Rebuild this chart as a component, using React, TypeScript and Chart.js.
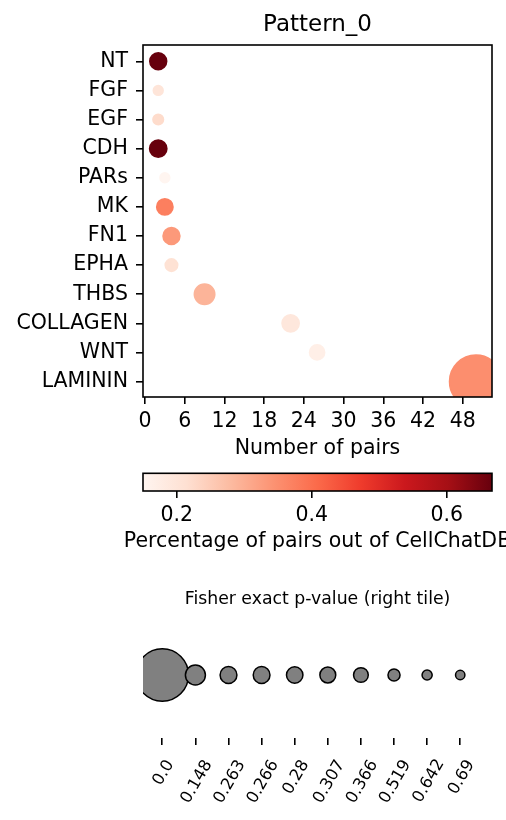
import React, { useEffect, useRef } from 'react';
import { Chart, registerables } from 'chart.js';

Chart.register(...registerables);

// ---------------- data ----------------
const chartTitle = 'Pattern_0';
const categories = ['NT', 'FGF', 'EGF', 'CDH', 'PARs', 'MK', 'FN1', 'EPHA', 'THBS', 'COLLAGEN', 'WNT', 'LAMININ'];
const pairCounts = [2, 2, 2, 2, 3, 3, 4, 4, 9, 22, 26, 50];
const pairPercentages = [0.667, 0.2, 0.222, 0.667, 0.15, 0.375, 0.333, 0.21, 0.29, 0.193, 0.17, 0.35];
const pValues = [0.28, 0.69, 0.642, 0.263, 0.69, 0.307, 0.28, 0.519, 0.148, 0.266, 0.366, 0.0];
const xTicks = [0, 6, 12, 18, 24, 30, 36, 42, 48];
const colorbarTicks = [0.2, 0.4, 0.6];
const legendPValues = [0.0, 0.148, 0.263, 0.266, 0.28, 0.307, 0.366, 0.519, 0.642, 0.69];
const xAxisTitle = 'Number of pairs';
const colorbarTitle = 'Percentage of pairs out of CellChatDB';
const legendTitle = 'Fisher exact p-value (right tile)';

// ---------------- styles ----------------
const FONT = "'DejaVu Sans'";
const REDS = [
  [255, 245, 240], [254, 224, 210], [252, 187, 161], [252, 146, 114], [251, 106, 74],
  [239, 59, 44], [203, 24, 29], [165, 15, 21], [103, 0, 13],
];
const vmin = Math.min(...pairPercentages);
const vmax = Math.max(...pairPercentages);

function reds(t: number): string {
  const c = Math.max(0, Math.min(1, t)) * (REDS.length - 1);
  const i = Math.min(REDS.length - 2, Math.floor(c));
  const f = c - i;
  const a = REDS[i], b = REDS[i + 1];
  const m = (k: number) => Math.round(a[k] + (b[k] - a[k]) * f);
  return `rgb(${m(0)},${m(1)},${m(2)})`;
}
function radius(p: number): number {
  const l = Math.min(-Math.log(p), 13.5);
  return Math.sqrt(3.2 + 50.7 * l);
}
const fmtP = (p: number) => (p === 0 ? '0.0' : String(p));

const framePlugin = {
  id: 'frame',
  afterDatasetsDraw(chart: any, _a: any, opts: any) {
    if (!opts || !opts.show) return;
    const { left, top, right, bottom } = chart.chartArea;
    const ctx = chart.ctx;
    ctx.save();
    ctx.strokeStyle = '#000';
    ctx.lineWidth = 1.6;
    ctx.strokeRect(left, top, right - left, bottom - top);
    ctx.restore();
  },
};

const captionPlugin = {
  id: 'captions',
  afterDraw(chart: any, _a: any, opts: any) {
    if (!opts || !opts.items) return;
    const ctx = chart.ctx;
    const { left, right } = chart.chartArea;
    ctx.save();
    ctx.fillStyle = '#000';
    ctx.textAlign = 'center';
    ctx.textBaseline = 'middle';
    for (const it of opts.items) {
      ctx.font = `${it.size}px ${FONT}`;
      ctx.fillText(it.text, (left + right) / 2, it.y);
    }
    ctx.restore();
  },
};

const gradientPlugin = {
  id: 'cbar',
  beforeDatasetsDraw(chart: any, _a: any, opts: any) {
    if (!opts || !opts.show) return;
    const ctx = chart.ctx;
    const xs = chart.scales.x;
    const { left, top, right, bottom } = chart.chartArea;
    const g = ctx.createLinearGradient(xs.getPixelForValue(vmin), 0, xs.getPixelForValue(vmax), 0);
    REDS.forEach((c, i) => g.addColorStop(i / (REDS.length - 1), `rgb(${c[0]},${c[1]},${c[2]})`));
    ctx.save();
    ctx.fillStyle = g;
    ctx.fillRect(left, top, right - left, bottom - top);
    ctx.restore();
  },
};

const rotatedLabelPlugin = {
  id: 'rotLabels',
  afterDraw(chart: any, _a: any, opts: any) {
    if (!opts || !opts.labels) return;
    const ctx = chart.ctx;
    const xs = chart.scales.x;
    const ang = (60 * Math.PI) / 180;
    ctx.save();
    ctx.fillStyle = '#000';
    ctx.font = `${opts.size}px ${FONT}`;
    ctx.textAlign = 'left';
    ctx.textBaseline = 'alphabetic';
    opts.labels.forEach((t: string, i: number) => {
      const m = ctx.measureText(t);
      const w = m.actualBoundingBoxLeft + m.actualBoundingBoxRight;
      const h = m.actualBoundingBoxAscent + m.actualBoundingBoxDescent;
      const bh = w * Math.sin(ang) + h * Math.cos(ang);
      const cx = xs.getPixelForValue(i);
      const cy = opts.top + bh / 2;
      const mx = (m.actualBoundingBoxRight - m.actualBoundingBoxLeft) / 2;
      const my = (m.actualBoundingBoxDescent - m.actualBoundingBoxAscent) / 2;
      ctx.save();
      ctx.translate(cx, cy);
      ctx.rotate(-ang);
      ctx.fillText(t, -mx, -my);
      ctx.restore();
    });
    ctx.restore();
  },
};

const tickGrid = { display: true, drawOnChartArea: false, drawTicks: true, tickLength: 7, lineWidth: 1.6, color: '#000' };

export default function App() {
  const mainRef = useRef<HTMLCanvasElement>(null);
  const cbRef = useRef<HTMLCanvasElement>(null);
  const lgRef = useRef<HTMLCanvasElement>(null);

  useEffect(() => {
    Chart.defaults.font.family = FONT;
    Chart.defaults.color = '#000';
    const colors = pairPercentages.map((v) => reds((v - vmin) / (vmax - vmin)));

    const main = new Chart(mainRef.current as HTMLCanvasElement, {
      type: 'bubble',
      data: {
        datasets: [
          {
            data: categories.map((_, i) => ({ x: pairCounts[i], y: i, r: radius(pValues[i]) })),
            backgroundColor: colors,
            borderColor: colors,
            borderWidth: 2,
            clip: 0,
          } as any,
        ],
      },
      options: {
        responsive: false,
        animation: false,
        events: [],
        layout: { autoPadding: false, padding: { top: 45, left: 0, right: 14, bottom: 0 } },
        plugins: {
          legend: { display: false },
          tooltip: { enabled: false },
          frame: { show: true },
          captions: { items: [{ text: chartTitle, size: 23, y: 25 }] },
        } as any,
        scales: {
          x: {
            type: 'linear',
            min: -0.3,
            max: 52.42,
            afterBuildTicks: (s: any) => { s.ticks = xTicks.map((v) => ({ value: v })); },
            afterFit: (s: any) => { s.height = 73; },
            grid: tickGrid,
            border: { display: false },
            ticks: { font: { size: 20.5 }, color: '#000', padding: 5.5, maxRotation: 0, autoSkip: false, callback: (v: any) => String(v) },
            title: { display: true, text: xAxisTitle, font: { size: 20.5 }, color: '#000', padding: { top: 0, bottom: 8.7 } },
          },
          y: {
            type: 'linear',
            reverse: true,
            min: -0.56,
            max: 11.53,
            afterBuildTicks: (s: any) => { s.ticks = categories.map((_, i) => ({ value: i })); },
            afterFit: (s: any) => { s.width = 143; },
            grid: tickGrid,
            border: { display: false },
            ticks: { font: { size: 20.5 }, color: '#000', padding: 8, autoSkip: false, callback: (v: any) => categories[v] ?? '' },
          },
        } as any,
      },
      plugins: [framePlugin, captionPlugin],
    } as any);

    const cbar = new Chart(cbRef.current as HTMLCanvasElement, {
      type: 'scatter',
      data: { datasets: [] },
      options: {
        responsive: false,
        animation: false,
        events: [],
        layout: { autoPadding: false, padding: { top: 13.3, left: 143, right: 14, bottom: 0 } },
        plugins: {
          legend: { display: false },
          tooltip: { enabled: false },
          frame: { show: true },
          cbar: { show: true },
          captions: { items: [{ text: colorbarTitle, size: 20.5, y: 82 }] },
        } as any,
        scales: {
          x: {
            type: 'linear',
            min: vmin,
            max: vmax,
            afterBuildTicks: (s: any) => { s.ticks = colorbarTicks.map((v) => ({ value: v })); },
            afterFit: (s: any) => { s.height = 69; },
            grid: tickGrid,
            border: { display: false },
            ticks: { font: { size: 20.5 }, color: '#000', padding: 5, maxRotation: 0, autoSkip: false, callback: (v: any) => Number(v).toFixed(1) },
          },
          y: { display: false, min: 0, max: 1 },
        } as any,
      },
      plugins: [gradientPlugin, framePlugin, captionPlugin],
    } as any);

    const legend = new Chart(lgRef.current as HTMLCanvasElement, {
      type: 'bubble',
      data: {
        datasets: [
          {
            data: legendPValues.map((p, i) => ({ x: i, y: 0.5, r: radius(p) })),
            backgroundColor: '#808080',
            borderColor: '#000',
            borderWidth: 1.5,
            clip: 0,
          } as any,
        ],
      },
      options: {
        responsive: false,
        animation: false,
        events: [],
        layout: { autoPadding: false, padding: { top: 32, left: 143, right: 14, bottom: 0 } },
        plugins: {
          legend: { display: false },
          tooltip: { enabled: false },
          captions: { items: [{ text: legendTitle, size: 17.3, y: 20 }] },
          rotLabels: { labels: legendPValues.map(fmtP), size: 16.4, top: 178 },
        } as any,
        scales: {
          x: {
            type: 'linear',
            min: -0.583,
            max: 9.96,
            afterBuildTicks: (s: any) => { s.ticks = legendPValues.map((_, i) => ({ value: i })); },
            afterFit: (s: any) => { s.height = 82; },
            grid: tickGrid,
            border: { display: false },
            ticks: { display: false },
          },
          y: { display: false, min: 0, max: 1 },
        } as any,
      },
      plugins: [captionPlugin, rotatedLabelPlugin],
    } as any);

    return () => {
      main.destroy();
      cbar.destroy();
      legend.destroy();
    };
  }, []);

  return (
    <div style={{ position: 'absolute', left: 0, top: 0, width: 506, height: 820, background: '#fff', overflow: 'hidden' }}>
      <canvas ref={mainRef} width={506} height={470} style={{ position: 'absolute', left: 0, top: 0 }} />
      <canvas ref={cbRef} width={506} height={100} style={{ position: 'absolute', left: 0, top: 460 }} />
      <canvas ref={lgRef} width={506} height={240} style={{ position: 'absolute', left: 0, top: 580 }} />
    </div>
  );
}
